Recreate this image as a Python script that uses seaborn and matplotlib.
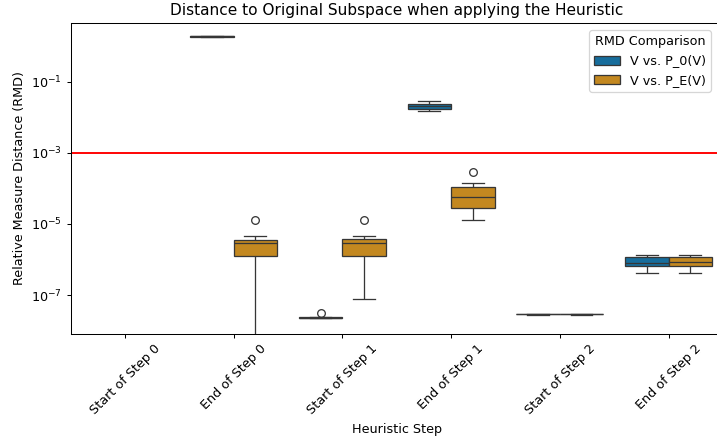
import matplotlib
matplotlib.use("Agg")
import matplotlib.pyplot as plt
import matplotlib.ticker as mticker
import seaborn as sns
import pandas as pd

steps = ["Start of Step 0", "End of Step 0", "Start of Step 1",
         "End of Step 1", "Start of Step 2", "End of Step 2"]
comparisons = ["V vs. P_0(V)", "V vs. P_E(V)"]

# V vs. P_0(V)
p0_start0 = [0, 0, 0, 0, 0, 0, 0, 0, 0]
p0_end0 = [1.83, 1.84, 1.84, 1.85, 1.85, 1.85, 1.86, 1.86, 1.87]
p0_start1 = [2.22e-8, 2.26e-8, 2.30e-8, 2.33e-8, 2.36e-8, 2.38e-8, 2.40e-8, 2.44e-8, 3.15e-8]
p0_end1 = [1.5e-2, 1.62e-2, 1.72e-2, 1.9e-2, 2.04e-2, 2.2e-2, 2.4e-2, 2.6e-2, 2.9e-2]
p0_start2 = [2.80e-8, 2.85e-8, 2.88e-8, 2.90e-8, 2.92e-8, 2.94e-8, 2.96e-8, 3.00e-8, 3.05e-8]
p0_end2 = [4.3e-7, 5.5e-7, 6.76e-7, 7.5e-7, 8.2e-7, 1.0e-6, 1.21e-6, 1.3e-6, 1.35e-6]

# V vs. P_E(V)
pe_start0 = [0, 0, 0, 0, 0, 0, 0, 0, 0]
pe_end0 = [0, 6e-7, 1.29e-6, 2.2e-6, 2.9e-6, 3.2e-6, 3.5e-6, 4.7e-6, 1.26e-5]
pe_start1 = [7.8e-8, 6e-7, 1.29e-6, 2.0e-6, 2.9e-6, 3.3e-6, 3.7e-6, 4.7e-6, 1.26e-5]
pe_end1 = [1.26e-5, 2.0e-5, 2.9e-5, 4.2e-5, 5.6e-5, 8.0e-5, 1.1e-4, 1.46e-4, 2.9e-4]
pe_start2 = [2.80e-8, 2.85e-8, 2.88e-8, 2.90e-8, 2.92e-8, 2.94e-8, 2.96e-8, 3.00e-8, 3.05e-8]
pe_end2 = [4.3e-7, 5.5e-7, 6.76e-7, 7.5e-7, 8.4e-7, 1.0e-6, 1.16e-6, 1.3e-6, 1.35e-6]

threshold = 1e-3
y_ticks = [1e-7, 1e-5, 1e-3, 1e-1]

groups = {
    comparisons[0]: [p0_start0, p0_end0, p0_start1, p0_end1, p0_start2, p0_end2],
    comparisons[1]: [pe_start0, pe_end0, pe_start1, pe_end1, pe_start2, pe_end2],
}
rows = []
for comp, lists in groups.items():
    for step, vals in zip(steps, lists):
        for v in vals:
            rows.append({"Heuristic Step": step, "RMD Comparison": comp, "RMD": v})
df = pd.DataFrame(rows)

DPI = 92
W, H = 717, 438
fig = plt.figure(figsize=(W / DPI, H / DPI), dpi=DPI)
left, right, top, bottom = 70.5, 723, 22.7, 333.5
ax = fig.add_axes([left / W, 1 - bottom / H, (right - left) / W, (bottom - top) / H])

sns.boxplot(data=df, x="Heuristic Step", y="RMD", hue="RMD Comparison",
            order=steps, hue_order=comparisons, palette="colorblind", ax=ax)
ax.set_yscale("log")
ax.axhline(threshold, color="red", linewidth=1.5)
ax.set_ylim(8.4e-9, 4.5)
ax.yaxis.set_major_locator(mticker.FixedLocator(y_ticks))
ax.yaxis.set_minor_locator(mticker.NullLocator())
ax.yaxis.set_major_formatter(mticker.LogFormatterSciNotation())
ax.set_title("Distance to Original Subspace when applying the Heuristic")
ax.set_xlabel("Heuristic Step")
ax.set_ylabel("Relative Measure Distance (RMD)")
plt.setp(ax.get_xticklabels(), rotation=45)
ax.legend(title="RMD Comparison", loc="upper right",
          bbox_to_anchor=((711 - left) / (right - left), (bottom - 30) / (bottom - top)),
          borderaxespad=0)

fig.savefig("out.png", dpi=DPI)
